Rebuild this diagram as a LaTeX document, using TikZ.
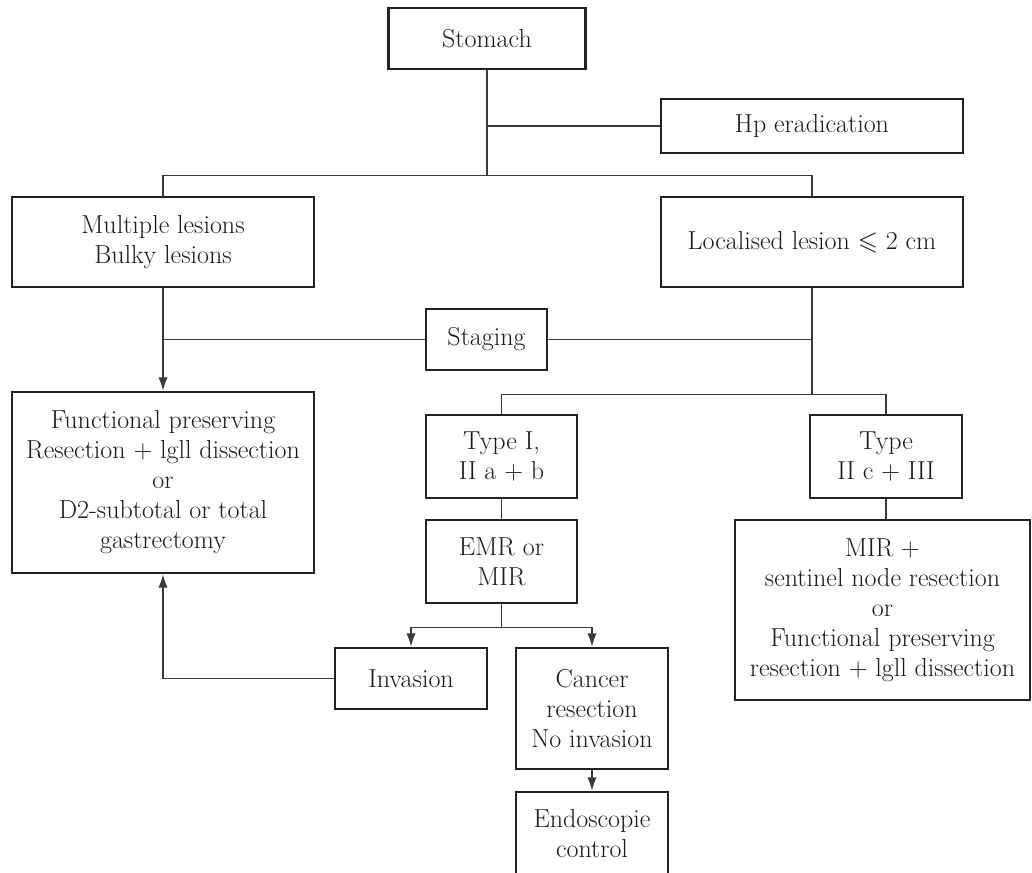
\documentclass[tikz,border=0pt]{standalone}
\usepackage{amssymb}
\usetikzlibrary{arrows.meta,calc}
\definecolor{boxline}{HTML}{222222}
\definecolor{conn}{HTML}{3A3A3A}
\definecolor{txt}{HTML}{1A1A1A}
\tikzset{
  flowbox/.style={draw=boxline, line width=2pt, align=center, inner sep=0pt,
    text=txt, font=\fontsize{19.5}{22.5}\selectfont},
  link/.style={draw=conn, line width=1pt},
  arrowlink/.style={link, -{Latex[length=10pt,width=7pt]}}
}
\begin{document}
\begin{tikzpicture}[x=0.75pt,y=-0.75pt]
\clip (0,0) rectangle (1032,872);
\useasboundingbox (0,0) rectangle (1032,872);
% boxes
\node[flowbox, minimum width=197*0.75pt, minimum height=61*0.75pt] (stomach) at (487,38.5) {Stomach};
\node[flowbox, minimum width=302*0.75pt, minimum height=54*0.75pt] (hp) at (812,126) {Hp eradication};
\node[flowbox, minimum width=302*0.75pt, minimum height=90*0.75pt] (multi) at (163,242) {Multiple lesions\\Bulky lesions};
\node[flowbox, minimum width=302*0.75pt, minimum height=90*0.75pt] (local) at (812,242) {Localised lesion $\leqslant$ 2 cm};
\node[flowbox, minimum width=121*0.75pt, minimum height=61*0.75pt] (staging) at (486.5,339.5) {Staging};
\node[flowbox, minimum width=302*0.75pt, minimum height=181*0.75pt] (func) at (163,482.5) {Functional preserving\\Resection + lgll dissection\\or\\D2-subtotal or total\\gastrectomy};
\node[flowbox, minimum width=151*0.75pt, minimum height=83*0.75pt] (type1) at (501.5,456.5) {Type I,\\II a + b};
\node[flowbox, minimum width=152*0.75pt, minimum height=83*0.75pt] (type2) at (886,456.5) {Type\\II c + III};
\node[flowbox, minimum width=151*0.75pt, minimum height=83*0.75pt] (emr) at (501.5,561.5) {EMR or\\MIR};
\node[flowbox, minimum width=295*0.75pt, minimum height=180*0.75pt] (mir) at (882.5,610) {MIR +\\sentinel node resection\\or\\Functional preserving\\resection + lgll dissection};
\node[flowbox, minimum width=152*0.75pt, minimum height=61*0.75pt] (invasion) at (411,678.5) {Invasion};
\node[flowbox, minimum width=152*0.75pt, minimum height=121*0.75pt] (cancer) at (592,708.5) {Cancer\\resection\\No invasion};
\node[flowbox, minimum width=152*0.75pt, minimum height=84*0.75pt] (endo) at (592,834) {Endoscopie\\control};
% junction coordinates
\coordinate (j1) at ($(stomach.south)+(0,105)$);
\coordinate (j2) at ($(local.south)+(0,106)$);
\coordinate (j3) at ($(emr.south)+(0,23)$);
% connectors
\draw[link] (stomach.south) -- (j1);
\draw[link] (hp.west) -- (hp.west -| stomach.south);
\draw[link] (multi.north) -- (multi.north |- j1) -- (local.north |- j1) -- (local.north);
\draw[arrowlink] (multi.south) -- (func.north);
\draw[link] (staging.west) -- (staging.west -| multi.south);
\draw[link] (staging.east) -- (staging.east -| local.south);
\draw[link] (local.south) -- (j2);
\draw[link] (type1.north) -- (type1.north |- j2) -- (type2.north |- j2) -- (type2.north);
\draw[link] (type1.south) -- (emr.north);
\draw[link] (type2.south) -- (type2.south |- mir.north);
\draw[link] (emr.south) -- (j3);
\draw[link] (invasion.north |- j3) -- (cancer.north |- j3);
\draw[arrowlink] (invasion.north |- j3) -- (invasion.north);
\draw[arrowlink] (cancer.north |- j3) -- (cancer.north);
\draw[arrowlink] (invasion.west) -- (invasion.west -| func.south) -- (func.south);
\draw[arrowlink] (cancer.south) -- (endo.north);
\end{tikzpicture}
\end{document}
